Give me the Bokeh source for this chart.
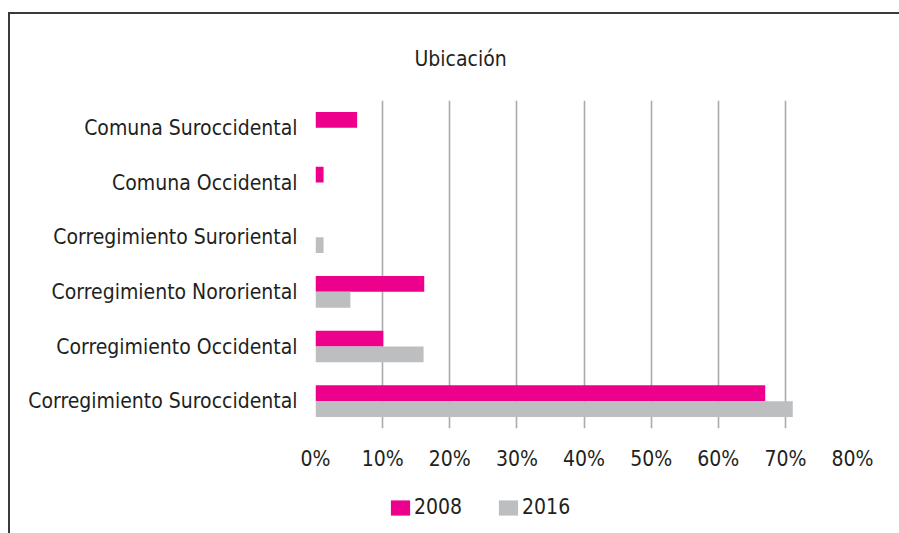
from bokeh.plotting import figure
from bokeh.layouts import column
from bokeh.models import (Range1d, FactorRange, FixedTicker, NumeralTickFormatter,
                          Title, Legend, LegendItem, ColumnDataSource)
from bokeh.transform import dodge
from bokeh.embed import file_html
from bokeh.resources import INLINE

# ---- data (bottom to top) ----
categories = [
    "Corregimiento Suroccidental",
    "Corregimiento Occidental",
    "Corregimiento Nororiental",
    "Corregimiento Suroriental",
    "Comuna Occidental",
    "Comuna Suroccidental",
]
values_2008 = [0.670, 0.101, 0.162, 0.0, 0.012, 0.062]
values_2016 = [0.711, 0.161, 0.052, 0.012, 0.0, 0.0]
series_names = ["2008", "2016"]
x_ticks = [0.0, 0.1, 0.2, 0.3, 0.4, 0.5, 0.6, 0.7, 0.8]
chart_title = "Ubicación"

# ---- styles ----
FONT = "'Liberation Sans Narrow', 'DejaVu Sans Condensed', sans-serif"
FS = "21px"
TEXT_COLOR = "#231f20"
PINK = "#ec008c"
GRAY = "#bcbec0"
GRID = "#a9abae"
FRAME_SHADOW = ("inset 0 12px 0 0 #ffffff, inset 8px 0 0 0 #ffffff, "
                "inset 0 14px 0 0 #3a3a3a, inset 10px 0 0 0 #3a3a3a")

src = ColumnDataSource(dict(cat=categories, v2008=values_2008, v2016=values_2016))

p = figure(
    y_range=FactorRange(*categories, range_padding=0),
    x_range=Range1d(0, x_ticks[-1]),
    frame_width=537, frame_height=328,
    min_border_left=315, min_border_right=47,
    min_border_top=100, min_border_bottom=63,
    output_backend="svg", toolbar_location=None,
)
p.outline_line_color = None
p.background_fill_color = "white"
p.border_fill_alpha = 0

bar_h = 0.29
p.hbar(y=dodge("cat", bar_h / 2, range=p.y_range), right="v2008", left=0,
       height=bar_h, source=src, fill_color=PINK, line_color=None)
p.hbar(y=dodge("cat", -bar_h / 2, range=p.y_range), right="v2016", left=0,
       height=bar_h, source=src, fill_color=GRAY, line_color=None)

# grid
p.ygrid.grid_line_color = None
p.xgrid.ticker = FixedTicker(ticks=x_ticks)
p.xgrid.grid_line_color = GRID
p.xgrid.grid_line_width = 1.6

# x axis
xa = p.xaxis[0]
xa.ticker = FixedTicker(ticks=x_ticks)
xa.formatter = NumeralTickFormatter(format="0%")
xa.axis_line_color = None
xa.major_tick_line_color = None
xa.minor_tick_line_color = None
xa.major_label_standoff = 12
xa.major_label_text_font = FONT
xa.major_label_text_font_size = FS
xa.major_label_text_color = TEXT_COLOR

# y axis
ya = p.yaxis[0]
ya.axis_line_color = None
ya.major_tick_line_color = None
ya.minor_tick_line_color = None
ya.major_label_standoff = 12
ya.major_label_text_font = FONT
ya.major_label_text_font_size = FS
ya.major_label_text_color = TEXT_COLOR

# title
p.add_layout(Title(text=chart_title, align="left", offset=99, standoff=60,
                   text_font=FONT, text_font_size=FS, text_font_style="normal",
                   text_color=TEXT_COLOR), "above")

# ---- legend strip (separate small figure, same data, renderers hidden) ----
q = figure(
    width=899, height=42, min_border=0,
    y_range=FactorRange(*categories), x_range=Range1d(0, x_ticks[-1]),
    x_axis_location=None, y_axis_location=None,
    output_backend="svg", toolbar_location=None,
)
q.outline_line_color = None
q.background_fill_alpha = 0
q.border_fill_alpha = 0
q.xgrid.visible = False
q.ygrid.visible = False
l1 = q.hbar(y="cat", right="v2008", left=0, height=bar_h, source=src,
            fill_color=PINK, line_color=None, visible=False)
l2 = q.hbar(y="cat", right="v2016", left=0, height=bar_h, source=src,
            fill_color=GRAY, line_color=None, visible=False)

legend = Legend(
    items=[LegendItem(label=series_names[0], renderers=[l1]),
           LegendItem(label=series_names[1], renderers=[l2])],
    orientation="horizontal", location=(73, 14),
    glyph_width=24, glyph_height=19, label_standoff=2, spacing=34,
    padding=0, margin=0, border_line_color=None, background_fill_alpha=0,
    label_text_font=FONT, label_text_font_size=FS, label_text_color=TEXT_COLOR,
)
q.add_layout(legend, "center")

layout = column(p, q, spacing=0, styles={"box-shadow": FRAME_SHADOW})

open("out.html", "w").write(file_html(layout, INLINE))
